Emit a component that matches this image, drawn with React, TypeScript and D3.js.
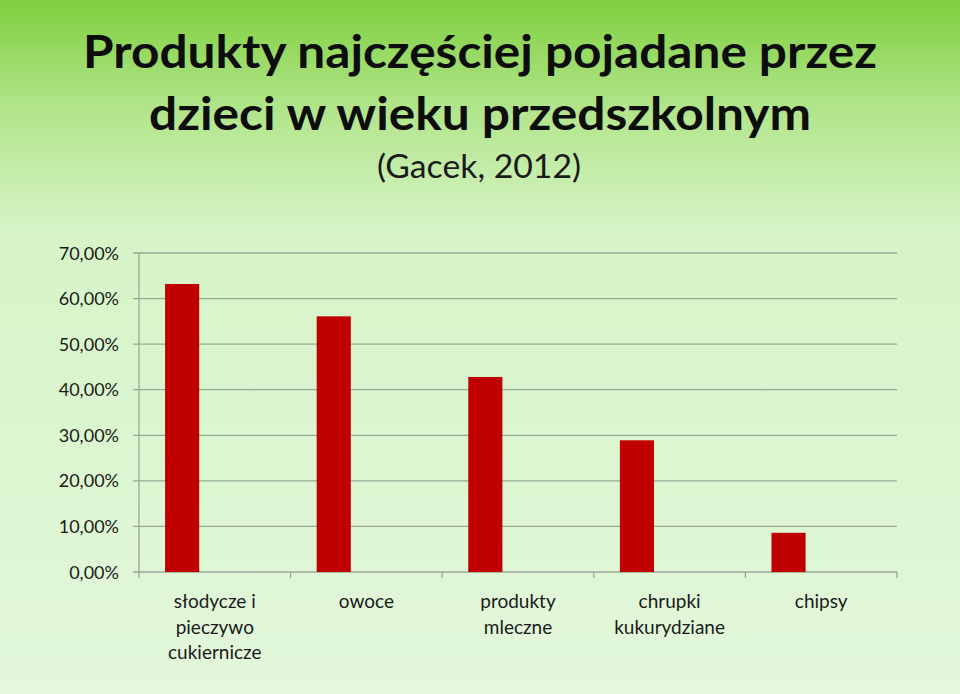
import React from "react";
import * as d3 from "d3";

const categories = [
  ["słodycze i", "pieczywo", "cukiernicze"],
  ["owoce"],
  ["produkty", "mleczne"],
  ["chrupki", "kukurydziane"],
  ["chipsy"],
];
const values = [63.2, 56.1, 42.8, 28.9, 8.6];
const yTicks = [0, 10, 20, 30, 40, 50, 60, 70];
const titleLines = ["Produkty najczęściej pojadane przez", "dzieci w wieku przedszkolnym"];
const subtitle = "(Gacek, 2012)";

const W = 960, H = 694;
const left = 139, right = 897, top = 253, bottom = 572;
const FONT = "Lato, 'Open Sans', sans-serif";

export default function App() {
  const x = d3.scaleBand<number>().domain(d3.range(values.length)).range([left, right]).paddingInner(0).paddingOuter(0);
  const y = d3.scaleLinear().domain([0, 70]).range([bottom, top]);
  const bw = x.bandwidth();
  const barW = bw * 0.225;
  const barOff = bw * 0.172;
  const fmt = (v: number) => v.toFixed(2).replace(".", ",") + "%";
  return (
    <svg width={W} height={H} style={{ position: "absolute", left: 0, top: 0 }}>
      <defs>
        <linearGradient id="bg" x1="0" y1="0" x2="0" y2="1">
          <stop offset="0" stopColor="#7ecf3e" />
          <stop offset="0.15" stopColor="#b0e488" />
          <stop offset="0.33" stopColor="#d6f4c6" />
          <stop offset="1" stopColor="#e3f8dc" />
        </linearGradient>
      </defs>
      <rect x={0} y={0} width={W} height={H} fill="url(#bg)" />
      <text x={480} y={68} textAnchor="middle" fontFamily={FONT} fontWeight={700} fontSize={45} fill="#0d0d0d" textLength={794} lengthAdjust="spacingAndGlyphs">{titleLines[0]}</text>
      <text x={480} y={130} textAnchor="middle" fontFamily={FONT} fontWeight={700} fontSize={45} fill="#0d0d0d" textLength={662} lengthAdjust="spacingAndGlyphs">{titleLines[1]}</text>
      <text x={479} y={178} textAnchor="middle" fontFamily={FONT} fontSize={32} fill="#1a1a1a" textLength={204} lengthAdjust="spacingAndGlyphs">{subtitle}</text>
      {yTicks.map((t) => (
        <g key={t}>
          <line x1={left - 6} x2={right} y1={y(t)} y2={y(t)} stroke="#9aa797" strokeWidth={1.3} />
          <text x={119} y={y(t) + 6.5} textAnchor="end" fontFamily={FONT} fontSize={18} fill="#1a1a1a">{fmt(t)}</text>
        </g>
      ))}
      <line x1={left} x2={left} y1={top} y2={bottom} stroke="#9aa797" strokeWidth={1.3} />
      {d3.range(values.length + 1).map((i) => {
        const xx = left + i * bw;
        return <line key={i} x1={xx} x2={xx} y1={bottom} y2={bottom + 6} stroke="#9aa797" strokeWidth={1.3} />;
      })}
      {values.map((v, i) => (
        <rect key={i} x={(x(i) as number) + barOff} y={y(v)} width={barW} height={bottom - y(v)} fill="#c00000" />
      ))}
      {categories.map((lines, i) => (
        <text key={i} textAnchor="middle" fontFamily={FONT} fontSize={19} fill="#1a1a1a">
          {lines.map((l, j) => (
            <tspan key={j} x={(x(i) as number) + bw / 2} y={608 + j * 25.5}>{l}</tspan>
          ))}
        </text>
      ))}
    </svg>
  );
}
